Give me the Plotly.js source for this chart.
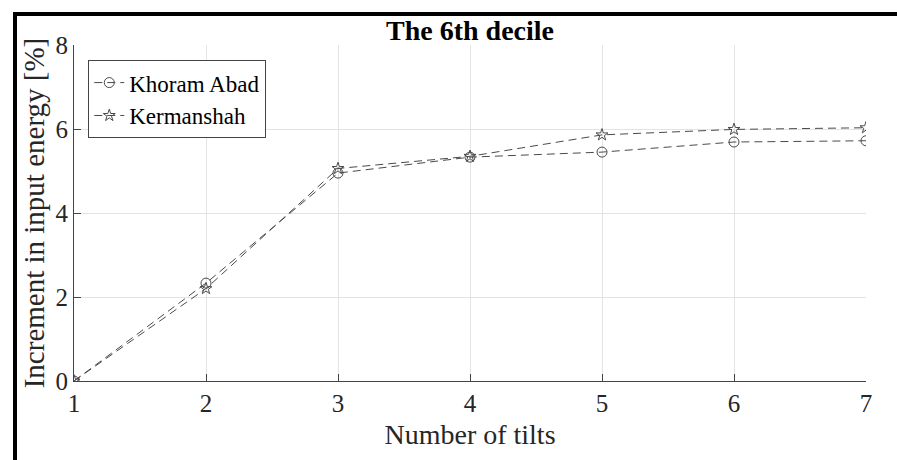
<!DOCTYPE html>
<html>
<head>
<meta charset="utf-8">
<script src="https://cdn.plot.ly/plotly-3.0.1.min.js"></script>
<style>
html,body{margin:0;padding:0;background:#fff;}
#wrap{position:relative;width:897px;height:460px;overflow:hidden;}
#chart{position:absolute;left:0;top:0;width:897px;height:460px;}
#frame{position:absolute;left:13px;top:12px;width:900px;height:460px;border-left:4px solid #000;border-top:4px solid #000;pointer-events:none;}
</style>
</head>
<body>
<div id="wrap"><div id="chart"></div><div id="frame"></div></div>
<script>
const tilts = [1, 2, 3, 4, 5, 6, 7];
const khoramAbad = [0, 2.33, 4.95, 5.33, 5.45, 5.69, 5.72];
const kermanshah = [0, 2.20, 5.06, 5.35, 5.86, 5.99, 6.03];
const seriesNames = ["Khoram Abad", "Kermanshah"];
const xTicks = [1, 2, 3, 4, 5, 6, 7];
const yTicks = [0, 2, 4, 6, 8];

const font = "'Liberation Serif', serif";
const lineCol = "#4a4a4a";

const traces = [
  {x: tilts, y: khoramAbad, name: seriesNames[0], type: "scatter", mode: "lines+markers",
   line: {color: lineCol, width: 1, dash: "8px,5px"},
   marker: {symbol: "circle-open", size: 10, color: lineCol, line: {width: 1, color: lineCol}}},
  {x: tilts, y: kermanshah, name: seriesNames[1], type: "scatter", mode: "lines+markers",
   line: {color: lineCol, width: 1, dash: "8px,5px"},
   marker: {symbol: "star-open", size: 9, color: lineCol, line: {width: 1, color: lineCol}}}
];

const layout = {
  width: 897, height: 460,
  margin: {l: 74, r: 31, t: 45, b: 79, pad: 0},
  paper_bgcolor: "#fff", plot_bgcolor: "#fff",
  font: {family: font, color: "#262626", size: 24},
  title: {text: "<b>The 6th decile</b>", x: 0.5, xref: "paper", y: 0.935, yref: "container", yanchor: "middle",
          font: {family: font, size: 28, color: "#000"}},
  xaxis: {range: [1, 7], tickvals: xTicks, ticktext: xTicks.map(String),
          showgrid: true, gridcolor: "#e3e3e3", gridwidth: 1,
          showline: true, linecolor: "#444", linewidth: 1, mirror: false,
          ticks: "inside", ticklen: 7, tickcolor: "#444", zeroline: false,
          tickfont: {family: font, size: 25, color: "#262626"},
          title: {text: "Number of tilts", font: {family: font, size: 28, color: "#262626"}, standoff: 8}},
  yaxis: {range: [0, 8], tickvals: yTicks, ticktext: yTicks.map(String),
          showgrid: true, gridcolor: "#e3e3e3", gridwidth: 1,
          showline: true, linecolor: "#444", linewidth: 1,
          ticks: "inside", ticklen: 7, tickcolor: "#444", zeroline: false,
          tickfont: {family: font, size: 25, color: "#262626"},
          title: {text: "Increment in input energy [%]", font: {family: font, size: 29, color: "#262626"}, standoff: 2}},
  showlegend: true,
  legend: {x: 0.018, y: 0.955, xanchor: "left", yanchor: "top",
           bgcolor: "#fff", bordercolor: "#444", borderwidth: 1,
           font: {family: font, size: 23, color: "#000"}, itemwidth: 30,
           tracegroupgap: 0}
};

Plotly.newPlot("chart", traces, layout, {displayModeBar: false, staticPlot: true});
</script>
</body>
</html>
